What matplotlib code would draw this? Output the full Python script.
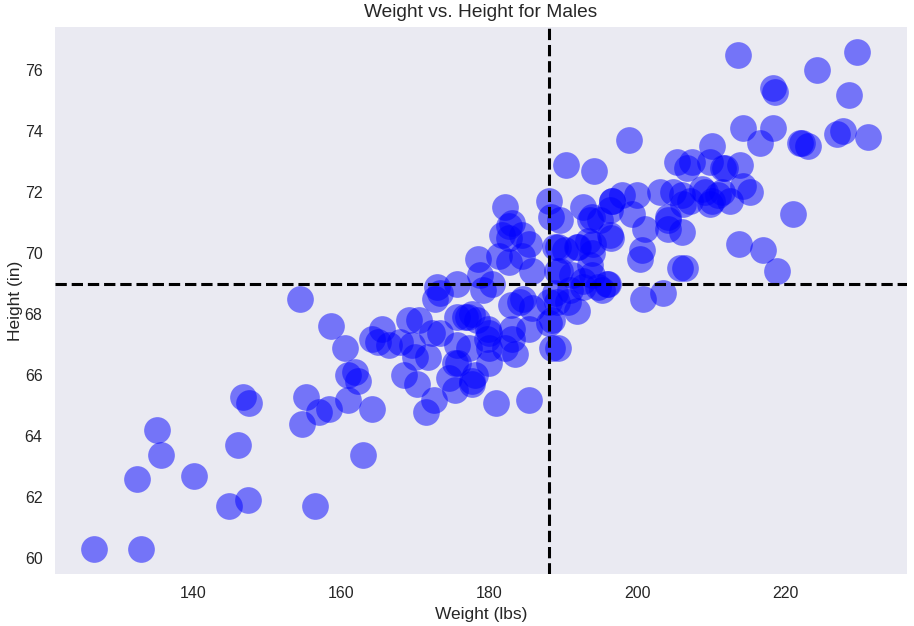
import matplotlib
matplotlib.use("Agg")
import matplotlib.pyplot as plt
import numpy as np

# weights (lbs) and heights (in)
weight = [126.6, 133.0, 132.4, 140.1, 135.2, 135.7, 144.8, 147.4, 146.1, 146.8,
          147.6, 156.4, 154.7, 155.3, 157.0, 158.4, 154.4, 158.6, 160.5, 160.9,
          163.0, 164.1, 171.4, 172.5, 170.2, 175.3, 180.9, 185.3, 177.7, 168.4,
          182.1, 188.0, 188.3, 182.7, 184.4, 181.7, 185.4, 182.6, 184.4, 181.3,
          178.4, 185.7, 178.7, 180.4, 175.6, 172.9, 179.1, 172.6, 184.1, 182.9,
          185.8, 175.6, 177.1, 178.3, 169.1, 170.5, 172.2, 169.5, 169.9, 171.7,
          165.5, 164.1, 164.9, 166.5, 167.9, 161.8, 160.9, 162.2, 175.6, 177.3,
          175.7, 174.6, 177.6, 178.0, 180.0, 179.6, 179.8, 182.1, 183.1, 183.0,
          183.4, 185.4, 188.5, 188.5, 189.1, 188.8, 189.1, 189.5, 183.0, 182.7,
          189.2, 192.6, 193.8, 196.2, 196.2, 193.3, 193.8, 191.8, 190.2, 189.5,
          191.1, 193.8, 195.8, 194.6, 192.6, 190.8, 188.8, 190.6, 191.8, 184.5,
          188.1, 189.2, 180.0, 180.0, 177.7, 176.7, 175.3, 173.3, 173.3, 198.8,
          190.3, 194.1, 193.5, 196.5, 197.9, 199.9, 199.2, 196.4, 201.0, 200.6,
          200.3, 204.1, 204.1, 206.0, 206.1, 203.0, 204.8, 205.3, 207.3, 206.6,
          209.8, 210.0, 211.5, 213.8, 208.7, 210.0, 211.4, 212.5, 215.2, 214.2,
          214.2, 218.3, 216.5, 221.9, 221.0, 213.7, 216.9, 218.8, 206.4, 205.7,
          200.7, 203.4, 191.9, 193.5, 192.6, 195.2, 196.0, 188.1, 213.5, 229.6,
          224.2, 228.5, 218.3, 218.5, 222.2, 223.0, 226.9, 227.7, 231.1, 211.8,
          209.8, 206.0, 204.1, 194.0, 194.9, 196.6, 207.0, 209.1, 210.8]
height = [60.3, 60.3, 62.6, 62.7, 64.2, 63.4, 61.7, 61.9, 63.7, 65.3,
          65.1, 61.7, 64.4, 65.3, 64.8, 64.9, 68.5, 67.6, 66.9, 65.2,
          63.4, 64.9, 64.8, 65.2, 65.7, 65.5, 65.1, 65.2, 65.7, 66.0,
          71.5, 71.7, 71.2, 70.9, 70.6, 70.6, 70.3, 69.7, 69.9, 69.9,
          69.8, 69.4, 69.3, 69.0, 69.0, 68.9, 68.8, 68.5, 68.4, 68.3,
          68.2, 67.9, 67.9, 67.8, 67.8, 67.8, 67.4, 67.0, 66.6, 66.6,
          67.5, 67.2, 67.1, 67.0, 67.1, 66.1, 66.0, 65.8, 67.0, 66.9,
          66.4, 65.9, 65.8, 66.0, 66.4, 67.2, 67.5, 66.9, 67.5, 67.2,
          66.7, 67.5, 66.9, 67.8, 68.4, 70.2, 69.4, 71.1, 71.0, 70.5,
          70.2, 71.5, 71.2, 71.4, 70.6, 70.4, 70.0, 70.2, 70.1, 69.4,
          69.3, 69.3, 69.0, 68.9, 68.9, 68.8, 68.7, 68.4, 68.1, 68.5,
          67.7, 66.9, 67.4, 66.9, 68.0, 67.9, 66.4, 68.7, 67.4, 73.7,
          72.9, 72.7, 71.1, 71.7, 71.9, 71.9, 71.3, 70.5, 70.8, 70.1,
          69.8, 70.8, 71.2, 70.7, 71.6, 72.0, 72.0, 73.0, 73.0, 72.8,
          73.0, 73.5, 72.8, 72.9, 72.1, 71.7, 72.0, 71.7, 72.0, 72.2,
          74.1, 74.1, 73.6, 73.6, 71.3, 70.3, 70.1, 69.4, 69.5, 69.5,
          68.5, 68.7, 70.2, 69.6, 69.1, 68.8, 69.0, 68.4, 76.5, 76.6,
          76.0, 75.2, 75.4, 75.3, 73.6, 73.5, 73.9, 74.0, 73.8, 72.8,
          71.6, 71.9, 71.1, 70.3, 71.1, 71.7, 71.7, 72.0, 71.9]

mean_weight = 188.0
mean_height = 68.98

plt.rcParams['font.family'] = ['Liberation Sans', 'DejaVu Sans']

fig = plt.figure(figsize=(9.14, 6.26), dpi=100)
ax = fig.add_axes([0.0602, 0.0831, 0.932, 0.8738])
ax.set_facecolor('#EAEAF2')
for s in ax.spines.values():
    s.set_visible(False)

ax.scatter(weight, height, s=370, c='blue', alpha=0.5, linewidths=0)
ax.axvline(mean_weight, color='black', linestyle='--', linewidth=2.2)
ax.axhline(mean_height, color='black', linestyle='--', linewidth=2.2)

ax.set_xticks([140, 160, 180, 200, 220])
ax.set_yticks([60, 62, 64, 66, 68, 70, 72, 74, 76])
ax.tick_params(length=0, labelsize=11.5, labelcolor='#262626', pad=9)
ax.set_xlabel('Weight (lbs)', fontsize=12.5, color='#262626', labelpad=4)
ax.set_ylabel('Height (in)', fontsize=12.5, color='#262626', labelpad=1)
ax.set_title('Weight vs. Height for Males', fontsize=13.8, color='#262626', pad=7)

fig.savefig('out.png', dpi=100)
